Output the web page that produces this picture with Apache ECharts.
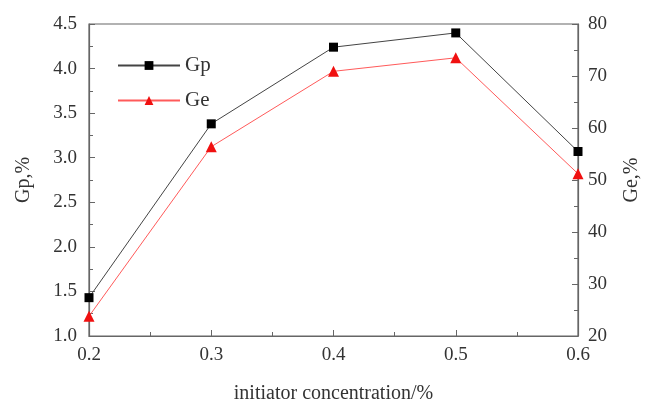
<!DOCTYPE html>
<html>
<head>
<meta charset="utf-8">
<script src="https://cdn.jsdelivr.net/npm/echarts@6/dist/echarts.min.js"></script>
<style>
  html, body { margin: 0; padding: 0; background: #fff; }
  #chart { width: 650px; height: 409px; }
</style>
</head>
<body>
<div id="chart"></div>
<script>
// 数据
var concentration = [0.2, 0.3, 0.4, 0.5, 0.6];
var gpValues = [1.43, 3.38, 4.24, 4.40, 3.07];
var geValues = [23.8, 56.4, 70.9, 73.5, 51.2];

var serif = 'Liberation Serif';
var axisGrey = '#666';
var textColor = '#333';

function pairs(xs, ys) {
    var out = [];
    for (var i = 0; i < xs.length; i++) {
        out.push([xs[i], ys[i]]);
    }
    return out;
}

function yAxisBase(pos) {
    return {
        type: 'value',
        position: pos,
        nameLocation: 'middle',
        nameRotate: 90,
        nameTextStyle: { fontFamily: serif, fontSize: 20, color: textColor },
        axisLine: { show: true, lineStyle: { color: axisGrey, width: 1.2 } },
        axisTick: { show: true, inside: true, length: 6, lineStyle: { color: axisGrey } },
        minorTick: { show: true, splitNumber: 2, length: 4, lineStyle: { color: axisGrey } },
        splitLine: { show: false },
        axisLabel: { fontFamily: serif, fontSize: 19, color: textColor }
    };
}

var leftAxis = yAxisBase('left');
leftAxis.name = 'Gp,%';
leftAxis.nameGap = 55;
leftAxis.min = 1;
leftAxis.max = 4.5;
leftAxis.interval = 0.5;
leftAxis.axisLabel.margin = 12;
leftAxis.axisLabel.formatter = function (v) { return v.toFixed(1); };

var rightAxis = yAxisBase('right');
rightAxis.name = 'Ge,%';
rightAxis.nameGap = 44;
rightAxis.min = 20;
rightAxis.max = 80;
rightAxis.interval = 10;
rightAxis.axisLabel.margin = 10;

var myChart = echarts.init(document.getElementById('chart')),
    option = {
        animation: false,
        backgroundColor: '#fff',
        grid: {
            left: 89,
            right: 63,
            top: 24,
            bottom: 70,
            show: true,
            borderColor: axisGrey,
            borderWidth: 1.2
        },
        legend: {
            left: 112,
            top: 50,
            orient: 'vertical',
            itemWidth: 62,
            itemHeight: 11,
            itemGap: 14,
            textStyle: { fontFamily: serif, fontSize: 21, color: textColor },
            data: ['Gp', 'Ge']
        },
        xAxis: {
            type: 'value',
            min: 0.2,
            max: 0.6,
            interval: 0.1,
            name: 'initiator concentration/%',
            nameLocation: 'middle',
            nameGap: 48,
            nameTextStyle: { fontFamily: serif, fontSize: 20, color: textColor },
            axisLine: { show: true, onZero: false, lineStyle: { color: axisGrey, width: 1.2 } },
            axisTick: { show: true, inside: true, length: 6, lineStyle: { color: axisGrey } },
            minorTick: { show: true, splitNumber: 2, length: 4, lineStyle: { color: axisGrey } },
            splitLine: { show: false },
            axisLabel: {
                fontFamily: serif, fontSize: 19, color: textColor, margin: 10,
                formatter: function (v) { return v.toFixed(1); }
            }
        },
        yAxis: [leftAxis, rightAxis],
        series: [
            {
                name: 'Gp',
                type: 'line',
                yAxisIndex: 0,
                data: pairs(concentration, gpValues),
                symbol: 'rect',
                symbolSize: 9,
                itemStyle: { color: '#000' },
                lineStyle: { color: '#444', width: 1 }
            },
            {
                name: 'Ge',
                type: 'line',
                yAxisIndex: 1,
                data: pairs(concentration, geValues),
                symbol: 'triangle',
                symbolSize: 11,
                itemStyle: { color: '#f01010' },
                lineStyle: { color: '#ff5a5a', width: 1 }
            }
        ]
    };

myChart.setOption(option);
</script>
</body>
</html>
